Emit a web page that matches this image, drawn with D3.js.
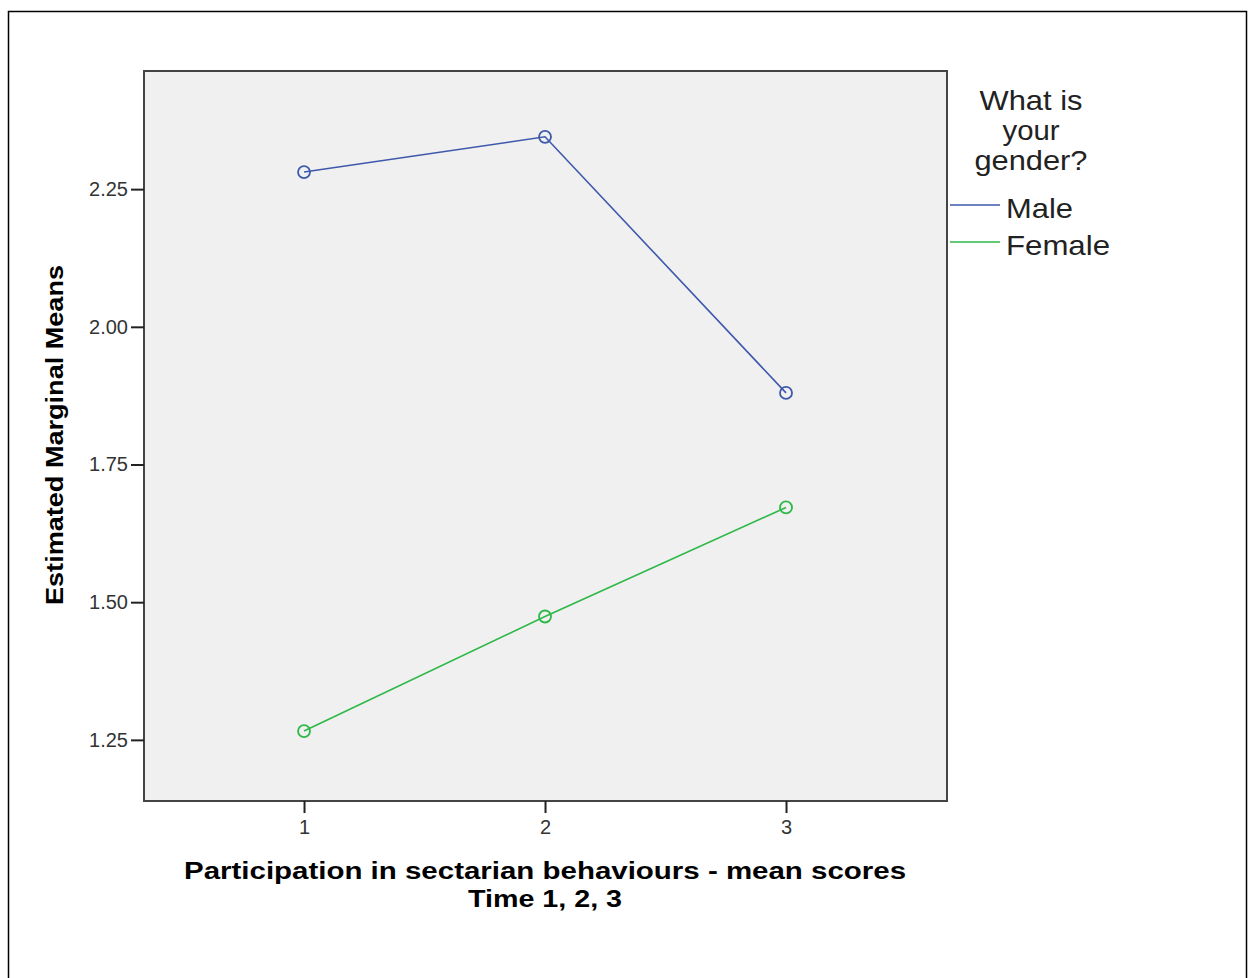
<!DOCTYPE html>
<html>
<head>
<meta charset="utf-8">
<script src="https://cdn.jsdelivr.net/npm/d3@7"></script>
<style>
  html, body { margin: 0; padding: 0; background: #fff; }
  svg { display: block; }
  text { font-family: "Liberation Sans", Arial, sans-serif; }
</style>
</head>
<body>
<svg id="chart" width="1248" height="978"></svg>
<script>
// ---- data ----
const timePoints = [1, 2, 3];
const maleMeans = [2.281, 2.345, 1.880];
const femaleMeans = [1.266, 1.474, 1.672];
const seriesNames = ["Male", "Female"];
const seriesColors = ["#3e58ac", "#2eb848"];
const yTicks = [1.25, 1.50, 1.75, 2.00, 2.25];
const legendTitle = ["What is", "your", "gender?"];
const xTitle = ["Participation in sectarian behaviours - mean scores", "Time 1, 2, 3"];
const yTitle = "Estimated Marginal Means";

const series = [
  { name: seriesNames[0], color: seriesColors[0], values: maleMeans },
  { name: seriesNames[1], color: seriesColors[1], values: femaleMeans }
];

const svg = d3.select("#chart");

// outer frame
svg.append("rect")
  .attr("x", 8.5).attr("y", 11.5)
  .attr("width", 1238).attr("height", 1000)
  .attr("fill", "none").attr("stroke", "#000").attr("stroke-width", 1.5);

const plot = { left: 144, top: 71, right: 947, bottom: 801 };

const x = d3.scaleLinear().domain([0.336, 3.668]).range([plot.left, plot.right]);
const y = d3.scaleLinear().domain([1.139, 2.4645]).range([plot.bottom, plot.top]);

// plot background
svg.append("rect")
  .attr("x", plot.left).attr("y", plot.top)
  .attr("width", plot.right - plot.left).attr("height", plot.bottom - plot.top)
  .attr("fill", "#f0f0f0").attr("stroke", "#444").attr("stroke-width", 2);

// y axis
const yAxis = d3.axisLeft(y).tickValues(yTicks).tickFormat(d3.format(".2f")).tickSize(13).tickPadding(3);
const gy = svg.append("g").attr("transform", `translate(${plot.left},0)`).call(yAxis);
gy.select(".domain").remove();
gy.selectAll(".tick line").attr("stroke", "#222").attr("stroke-width", 2);
gy.selectAll(".tick text").attr("font-size", 20).attr("fill", "#333")
  .attr("font-family", "'Liberation Sans', Arial, sans-serif");

// x axis
const xAxis = d3.axisBottom(x).tickValues(timePoints).tickFormat(d3.format("d")).tickSize(12).tickPadding(7);
const gx = svg.append("g").attr("transform", `translate(0,${plot.bottom})`).call(xAxis);
gx.select(".domain").remove();
gx.selectAll(".tick line").attr("stroke", "#222").attr("stroke-width", 2);
gx.selectAll(".tick text").attr("font-size", 20).attr("fill", "#333")
  .attr("font-family", "'Liberation Sans', Arial, sans-serif");

// lines
const line = d3.line().x((d, i) => x(timePoints[i])).y(d => y(d));
series.forEach(s => {
  svg.append("path").datum(s.values)
    .attr("d", line).attr("fill", "none")
    .attr("stroke", s.color).attr("stroke-width", 1.6);
  svg.selectAll(null).data(s.values).enter().append("circle")
    .attr("cx", (d, i) => x(timePoints[i])).attr("cy", d => y(d))
    .attr("r", 6).attr("fill", "none")
    .attr("stroke", s.color).attr("stroke-width", 1.8);
});

// axis titles
const xTitleWidths = [722, 154];
xTitle.forEach((t, i) => {
  svg.append("text").attr("text-anchor", "middle")
    .attr("x", x(2)).attr("y", 879 + i * 28)
    .attr("font-weight", "bold").attr("font-size", 23).attr("fill", "#000")
    .attr("textLength", xTitleWidths[i]).attr("lengthAdjust", "spacingAndGlyphs")
    .text(t);
});

svg.append("text")
  .attr("transform", `translate(63,${(265 + 605) / 2}) rotate(-90)`)
  .attr("text-anchor", "middle").attr("font-weight", "bold")
  .attr("font-size", 24).attr("fill", "#000")
  .attr("textLength", 340).attr("lengthAdjust", "spacingAndGlyphs")
  .text(yTitle);

// legend
const legendTitleWidths = [103, 57, 113];
legendTitle.forEach((t, i) => {
  svg.append("text").attr("text-anchor", "middle")
    .attr("x", 1031).attr("y", 110 + i * 30)
    .attr("font-size", 28).attr("fill", "#222")
    .attr("textLength", legendTitleWidths[i]).attr("lengthAdjust", "spacingAndGlyphs")
    .text(t);
});
const legendWidths = [67, 104];
series.forEach((s, i) => {
  const ly = 205 + i * 37;
  svg.append("line").attr("x1", 950).attr("x2", 1000).attr("y1", ly).attr("y2", ly)
    .attr("stroke", s.color).attr("stroke-width", 1.5);
  svg.append("text").attr("x", 1006).attr("y", ly + 13)
    .attr("font-size", 28).attr("fill", "#222")
    .attr("textLength", legendWidths[i]).attr("lengthAdjust", "spacingAndGlyphs")
    .text(s.name);
});
</script>
</body>
</html>
